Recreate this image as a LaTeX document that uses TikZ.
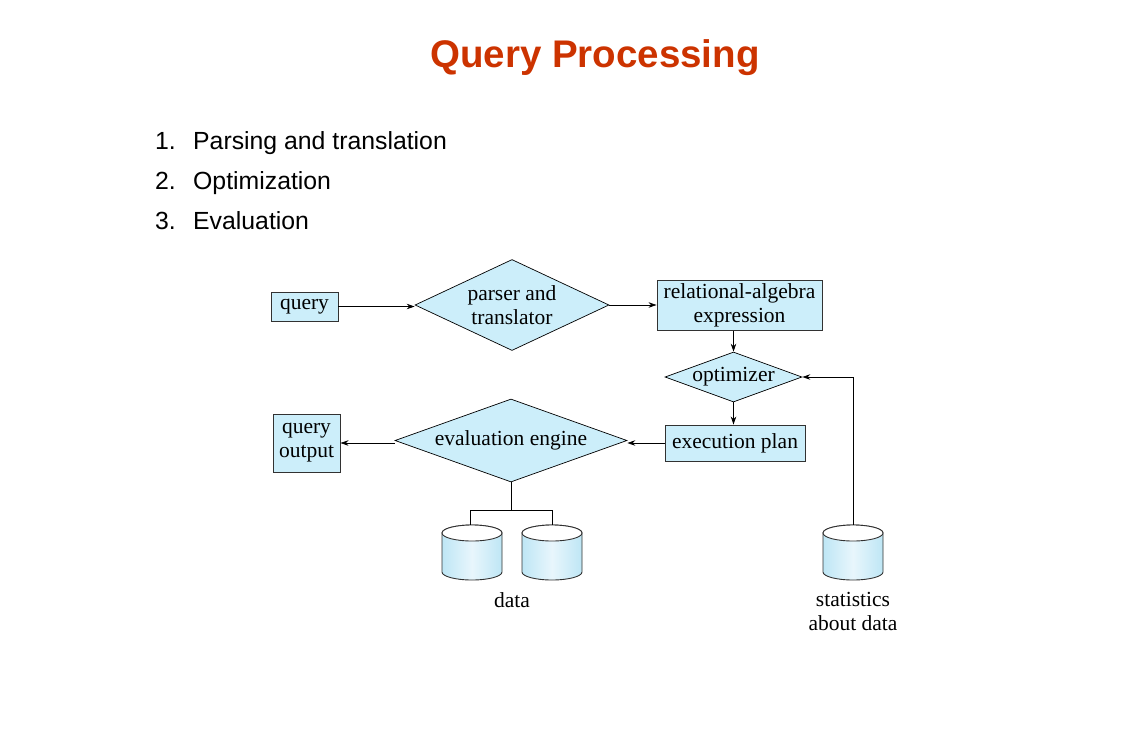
\documentclass[tikz,border=0pt]{standalone}
\usepackage{fontspec}
\setmainfont{Liberation Serif}
\newfontfamily\arialfont{Liberation Sans}
\usetikzlibrary{shapes.geometric,arrows.meta}
\definecolor{titlered}{RGB}{204,51,0}
\definecolor{boxblue}{RGB}{204,238,250}
\definecolor{cylblue}{RGB}{190,230,245}
\definecolor{cyllight}{RGB}{232,246,252}
\definecolor{edgegray}{RGB}{50,50,50}
\begin{document}
\begin{tikzpicture}[x=1pt,y=-1pt,
  lbl/.style={font=\fontsize{21.5}{24}\selectfont, align=center, inner sep=0pt},
  box/.style={lbl, draw=edgegray, fill=boxblue, line width=0.9pt},
  dia/.style={lbl, diamond, aspect=2.2, draw=black, fill=boxblue, line width=0.7pt},
  dbanchor/.style={rectangle, minimum width=60pt, minimum height=55pt, inner sep=0pt},
  cylline/.style={draw=edgegray, line width=0.9pt},
  conn/.style={line width=0.8pt, draw=black},
  arr/.style={conn, -{Stealth[length=8pt,width=5.5pt]}},
  item/.style={font=\arialfont\fontsize{24.8}{28}\selectfont, anchor=base west, inner sep=0pt}
]
\useasboundingbox (0,0) rectangle (1121,750);

\node[font=\arialfont\bfseries\fontsize{38.5}{44}\selectfont, text=titlered, anchor=base, inner sep=0pt] (title) at (595,67) {Query Processing};

\node[item] (n1) at (155,149) {1.};
\node[item] (i1) at (193,149) {Parsing and translation};
\node[item] (n2) at (155,189) {2.};
\node[item] (i2) at (193,189) {Optimization};
\node[item] (n3) at (155,229) {3.};
\node[item] (i3) at (193,229) {Evaluation};

\node[box, minimum width=67pt, minimum height=29pt] (query) at (304.5,306.5) {query};
\node[dia, minimum width=194pt, minimum height=91pt] (parser) at (512,305) {parser and\\translator};
\node[box, minimum width=165pt, minimum height=50pt] (relalg) at (739.5,305.5) {relational-algebra\\expression};
\node[dia, aspect=2.8, minimum width=137pt, minimum height=50pt] (opt) at (733.5,377) {optimizer};
\node[box, minimum width=140pt, minimum height=36pt] (exec) at (735,443) {execution plan};
\node[dia, aspect=2.8, minimum width=232pt, minimum height=83pt] (eval) at (511,440.5) {evaluation engine};
\node[box, minimum width=67pt, minimum height=58pt] (qout) at (306.5,443) {query\\output};

\node[dbanchor] (d1) at (472,552.5) {};
\node[dbanchor] (d2) at (552,552.5) {};
\node[dbanchor] (stats) at (853,552.5) {};
\foreach \c in {d1,d2,stats}{
  \begin{scope}[shift={(\c.center)}, x=1pt, y=1pt]
    \path[cylline, left color=cylblue, right color=cylblue, middle color=cyllight, shading angle=90]
      (-30,19.5) -- (-30,-19.5) arc[start angle=180, end angle=360, x radius=30, y radius=8]
      -- (30,19.5) arc[start angle=0, end angle=180, x radius=30, y radius=8] -- cycle;
    \path[cylline, fill=white] (0,19.5) ellipse[x radius=30, y radius=8];
  \end{scope}
}

\node[lbl] (datalbl) at (512,600) {data};
\node[lbl] (statlbl) at (853,611) {statistics\\about data};

\draw[arr] (query.east) -- (query.east -| parser.west);
\draw[arr] (parser.east) -- (parser.east -| relalg.west);
\draw[arr] (relalg.south -| opt.north) -- (opt.north);
\draw[arr] (opt.south) -- (opt.south |- exec.north);
\draw[arr] (exec.west) -- (exec.west -| eval.east);
\draw[arr] (qout.east -| eval.west) -- (qout.east);
\draw[conn] (eval.south) -- ++(0,28) coordinate (fork);
\draw[conn] ([xshift=-2pt]d1.north) |- (fork) -| (d2.north);
\draw[arr] (stats.north) |- (opt.east);
\end{tikzpicture}
\end{document}
